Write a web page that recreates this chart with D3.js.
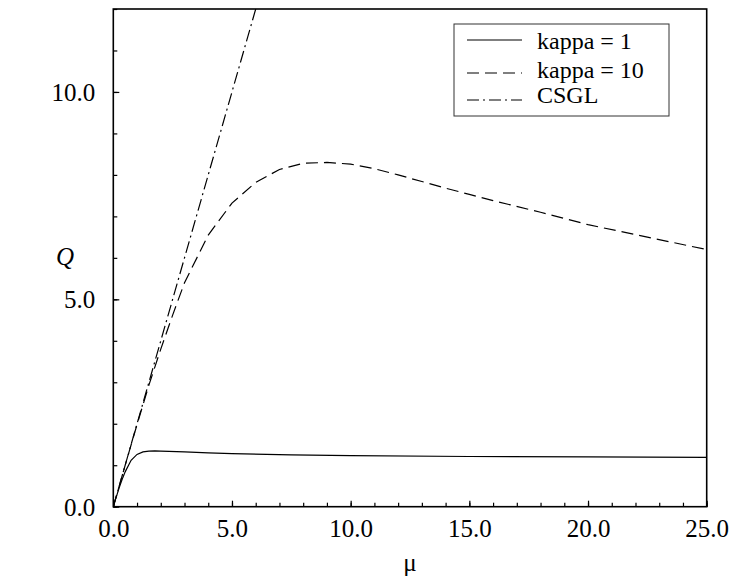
<!DOCTYPE html>
<html>
<head>
<meta charset="utf-8">
<script src="https://cdn.jsdelivr.net/npm/d3@7"></script>
<style>
  body { margin: 0; background: #fff; }
  svg { display: block; }
  svg text { font-family: "Liberation Serif", "Times New Roman", Times, "Nimbus Roman", "DejaVu Serif", serif !important; fill: #000; }
</style>
</head>
<body>
<svg id="chart" width="734" height="583"></svg>
<script>
// mu values and Q for each curve
const muK1 = [0, 0.1, 0.25, 0.4, 0.5, 0.75, 1.0, 1.25, 1.5, 1.75, 2, 3, 4, 5, 7.5, 10, 15, 20, 25];
const qK1  = [0, 0.19, 0.46, 0.70, 0.84, 1.12, 1.26, 1.32, 1.34, 1.345, 1.34, 1.32, 1.30, 1.28, 1.25, 1.23, 1.21, 1.20, 1.19];

const muK10 = [0, 0.5, 1, 1.5, 2, 2.5, 3, 4, 5, 6, 7, 8, 9, 10, 11, 12, 13, 14, 15, 16, 18, 20, 22.5, 25];
const qK10  = [0, 1.0, 1.98, 2.93, 3.8, 4.62, 5.4, 6.55, 7.32, 7.82, 8.13, 8.28, 8.30, 8.26, 8.15, 8.0, 7.84, 7.68, 7.53, 7.38, 7.1, 6.8, 6.5, 6.2];

const muCSGL = [0, 1, 2, 3, 4, 5, 6, 6.2];
const qCSGL  = [0, 2, 4, 6, 8, 10, 12, 12.4];

const xMajor = [0, 5, 10, 15, 20, 25];
const xMajorLabels = ["0.0", "5.0", "10.0", "15.0", "20.0", "25.0"];
const yMajor = [0, 5, 10];
const yMajorLabels = ["0.0", "5.0", "10.0"];

const legendLabels = ["kappa = 1", "kappa = 10", "CSGL"];

const svg = d3.select("#chart");
const plotLeft = 113.3, plotRight = 706.7, plotTop = 9, plotBottom = 506.7;

const x = d3.scaleLinear().domain([0, 25]).range([plotLeft, plotRight]);
const y = d3.scaleLinear().domain([0, 12]).range([plotBottom, plotTop]);

svg.append("defs").append("clipPath").attr("id", "plotClip")
  .append("rect").attr("x", plotLeft).attr("y", plotTop)
  .attr("width", plotRight - plotLeft).attr("height", plotBottom - plotTop);

// minor ticks every 1 unit, pointing inward
const xMinor = d3.range(0, 26, 1);
const yMinor = d3.range(0, 13, 1);

const gxMinor = svg.append("g").attr("transform", `translate(0,${plotBottom})`)
  .call(d3.axisBottom(x).tickValues(xMinor).tickSize(-4).tickFormat(""));
const gyMinor = svg.append("g").attr("transform", `translate(${plotLeft},0)`)
  .call(d3.axisLeft(y).tickValues(yMinor).tickSize(-4).tickFormat(""));

const gx = svg.append("g").attr("transform", `translate(0,${plotBottom})`)
  .call(d3.axisBottom(x).tickValues(xMajor).tickSize(-6).tickPadding(13)
    .tickFormat((d, i) => xMajorLabels[i]));
const gy = svg.append("g").attr("transform", `translate(${plotLeft},0)`)
  .call(d3.axisLeft(y).tickValues(yMajor).tickSize(-6).tickPadding(18)
    .tickFormat((d, i) => yMajorLabels[i]));

[gxMinor, gyMinor, gx, gy].forEach(g => {
  g.attr("font-family", null);
  g.select(".domain").remove();
  g.selectAll(".tick line").attr("stroke", "#000").attr("stroke-width", 1.2);
});
[gx, gy].forEach(g => {
  g.attr("font-size", null);
  g.selectAll(".tick text").style("font-size", "25px").attr("fill", "#000");
});
gx.selectAll(".tick text").attr("dy", "0.71em");
gy.selectAll(".tick text").attr("dy", "0.34em");

// curves
const line = d3.line().x(d => x(d[0])).y(d => y(d[1]));
const curves = [
  { mu: muK1, q: qK1, dash: null },
  { mu: muK10, q: qK10, dash: "12,6" },
  { mu: muCSGL, q: qCSGL, dash: "12,4,2,4" }
];
const plot = svg.append("g").attr("clip-path", "url(#plotClip)");
curves.forEach(c => {
  plot.append("path")
    .datum(c.mu.map((m, i) => [m, c.q[i]]))
    .attr("d", line)
    .attr("fill", "none")
    .attr("stroke", "#000")
    .attr("stroke-width", 1.2)
    .attr("stroke-dasharray", c.dash);
});

// frame
svg.append("rect")
  .attr("x", plotLeft).attr("y", plotTop)
  .attr("width", plotRight - plotLeft).attr("height", plotBottom - plotTop)
  .attr("fill", "none").attr("stroke", "#000").attr("stroke-width", 1.6);

// axis titles
svg.append("text").attr("x", (plotLeft + plotRight) / 2).attr("y", 571)
  .attr("text-anchor", "middle").style("font-size", "25px").text("μ");
svg.append("text").attr("x", 65).attr("y", 265)
  .attr("text-anchor", "middle").style("font-size", "25px")
  .style("font-style", "italic").text("Q");

// legend
const lg = svg.append("g");
lg.append("rect").attr("x", 454).attr("y", 24).attr("width", 215).attr("height", 92)
  .attr("fill", "#fff").attr("stroke", "#333").attr("stroke-width", 1);
const rowY = [40, 73, 100];
const baseY = [49, 78, 103];
curves.forEach((c, i) => {
  lg.append("line").attr("x1", 467).attr("x2", 522)
    .attr("y1", rowY[i]).attr("y2", rowY[i])
    .attr("stroke", "#000").attr("stroke-width", 1.2)
    .attr("stroke-dasharray", c.dash);
  lg.append("text").attr("x", 537).attr("y", baseY[i])
    .style("font-size", "24px").text(legendLabels[i]);
});
</script>
</body>
</html>
